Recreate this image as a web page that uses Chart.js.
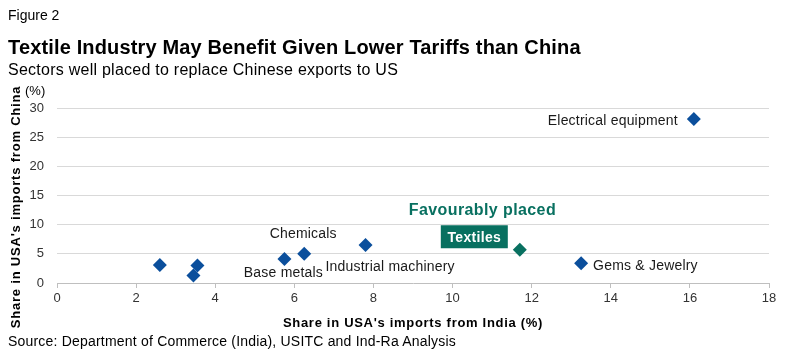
<!DOCTYPE html>
<html>
<head>
<meta charset="utf-8">
<script src="https://cdn.jsdelivr.net/npm/chart.js@4"></script>
<style>
  html, body { margin: 0; padding: 0; background: #fff; }
  #wrap { position: relative; width: 788px; height: 355px; overflow: hidden; font-family: "Liberation Sans", Arial, sans-serif; color: #000; }
  canvas { position: absolute; left: 0; top: 0; }
  .t { position: absolute; white-space: nowrap; }
</style>
</head>
<body>
<div id="wrap">
  <canvas id="c" width="788" height="355"></canvas>
  <div class="t" style="left:8px;top:8px;font-size:14px;line-height:14px;">Figure 2</div>
  <div class="t" style="left:8px;top:37px;font-size:20px;line-height:20px;font-weight:bold;letter-spacing:0.15px;">Textile Industry May Benefit Given Lower Tariffs than China</div>
  <div class="t" style="left:8px;top:62px;font-size:16px;line-height:16px;letter-spacing:0.25px;">Sectors well placed to replace Chinese exports to US</div>
  <div class="t" style="left:15px;top:207px;font-size:13px;line-height:13px;font-weight:bold;letter-spacing:0.8px;transform:translate(-50%,-50%) rotate(-90deg);">Share in USA's imports from China</div>
  <div class="t" style="left:25px;top:84px;font-size:13px;line-height:13px;">(%)</div>
  <div id="xt" class="t" style="left:413px;top:322px;font-size:13px;line-height:13px;font-weight:bold;letter-spacing:0.7px;transform:translate(-50%,-50%);"></div>
  <div class="t" style="left:8px;top:334px;font-size:14px;line-height:14px;letter-spacing:0.2px;">Source: Department of Commerce (India), USITC and Ind-Ra Analysis</div>
</div>
<script>
// ---- data ----
const sectors = ['Sector A', 'Sector B', 'Sector C', 'Base metals', 'Chemicals', 'Industrial machinery', 'Textiles', 'Gems & Jewelry', 'Electrical equipment'];
const shareIndia = [2.6, 3.45, 3.55, 5.75, 6.25, 7.8, 11.7, 13.25, 16.1];
const shareChina = [3.1, 1.3, 3.0, 4.1, 5.0, 6.5, 5.7, 3.4, 28.1];
const highlighted = ['Textiles'];
const xTicks = [0, 2, 4, 6, 8, 10, 12, 14, 16, 18];
const yTicks = [0, 5, 10, 15, 20, 25, 30];
const xTitle = "Share in USA's imports from India (%)";
const noteText = 'Favourably placed';

document.getElementById('xt').textContent = xTitle;

const BLUE = '#0b4f9c';
const GREEN = '#087060';

const points = shareIndia.map((x, i) => ({ x: x, y: shareChina[i] }));
const colors = sectors.map(s => highlighted.includes(s) ? GREEN : BLUE);

// label placement (pixel offsets from the point) — styling only
const labelStyle = {
  'Base metals': { dx: -1, dy: 14, align: 'center' },
  'Chemicals': { dx: -1, dy: -20, align: 'center' },
  'Industrial machinery': { dx: -40, dy: 22, align: 'left' },
  'Gems & Jewelry': { dx: 12, dy: 3, align: 'left' },
  'Electrical equipment': { dx: -16, dy: 2, align: 'right' }
};

const annot = {
  id: 'annot',
  afterDatasetsDraw(chart) {
    const ctx = chart.ctx;
    const xs = chart.scales.x, ys = chart.scales.y;
    ctx.save();
    ctx.textBaseline = 'middle';
    sectors.forEach((s, i) => {
      const px = xs.getPixelForValue(shareIndia[i]);
      const py = ys.getPixelForValue(shareChina[i]);
      if (labelStyle[s]) {
        const st = labelStyle[s];
        ctx.font = '14px "Liberation Sans", Arial, sans-serif';
        ctx.letterSpacing = '0.2px';
        ctx.fillStyle = '#1a1a1a';
        ctx.textAlign = st.align;
        ctx.fillText(s, px + st.dx, py + st.dy);
      }
      if (highlighted.includes(s)) {
        ctx.letterSpacing = '0.3px';
        ctx.font = 'bold 14px "Liberation Sans", Arial, sans-serif';
        const w = 67;
        const h = 23;
        const bx = px - 12 - w, by = py - 12 - h / 2 - 1;
        ctx.fillStyle = GREEN;
        ctx.fillRect(bx, by, w, h);
        ctx.fillStyle = '#fff';
        ctx.textAlign = 'center';
        ctx.fillText(s, bx + w / 2, by + h / 2 + 1);
        ctx.font = 'bold 16px "Liberation Sans", Arial, sans-serif';
        ctx.letterSpacing = '0.4px';
        ctx.fillStyle = GREEN;
        ctx.textAlign = 'left';
        ctx.fillText(noteText, px - 111, py - 39);
      }
    });
    ctx.restore();
  }
};

new Chart(document.getElementById('c'), {
  type: 'scatter',
  data: {
    datasets: [{
      data: points,
      pointStyle: 'rectRot',
      pointRadius: 7,
      pointHoverRadius: 7,
      backgroundColor: colors,
      borderColor: colors,
      borderWidth: 0
    }]
  },
  options: {
    responsive: false,
    animation: false,
    events: [],
    layout: { padding: { top: 108, right: 19, bottom: 18, left: 0 } },
    plugins: { legend: { display: false }, tooltip: { enabled: false }, title: { display: false } },
    scales: {
      x: {
        type: 'linear', min: 0, max: 18,
        afterBuildTicks(axis) { axis.ticks = xTicks.map(v => ({ value: v })); },
        afterFit(axis) { axis.height = 54; },
        grid: { drawOnChartArea: false, drawTicks: true, tickLength: 5, color: '#bfbfbf' },
        border: { display: true, color: '#bfbfbf' },
        ticks: { color: '#333', font: { family: '"Liberation Sans", Arial, sans-serif', size: 13 }, padding: 3, maxRotation: 0 }
      },
      y: {
        type: 'linear', min: 0, max: 30,
        afterBuildTicks(axis) { axis.ticks = yTicks.map(v => ({ value: v })); },
        afterFit(axis) { axis.width = 57; },
        grid: { drawTicks: false, color: ctx => ctx.tick && ctx.tick.value === 0 ? 'rgba(0,0,0,0)' : '#d9d9d9' },
        border: { display: false },
        ticks: { color: '#333', font: { family: '"Liberation Sans", Arial, sans-serif', size: 13 }, padding: 13 }
      }
    }
  },
  plugins: [annot]
});
</script>
</body>
</html>
